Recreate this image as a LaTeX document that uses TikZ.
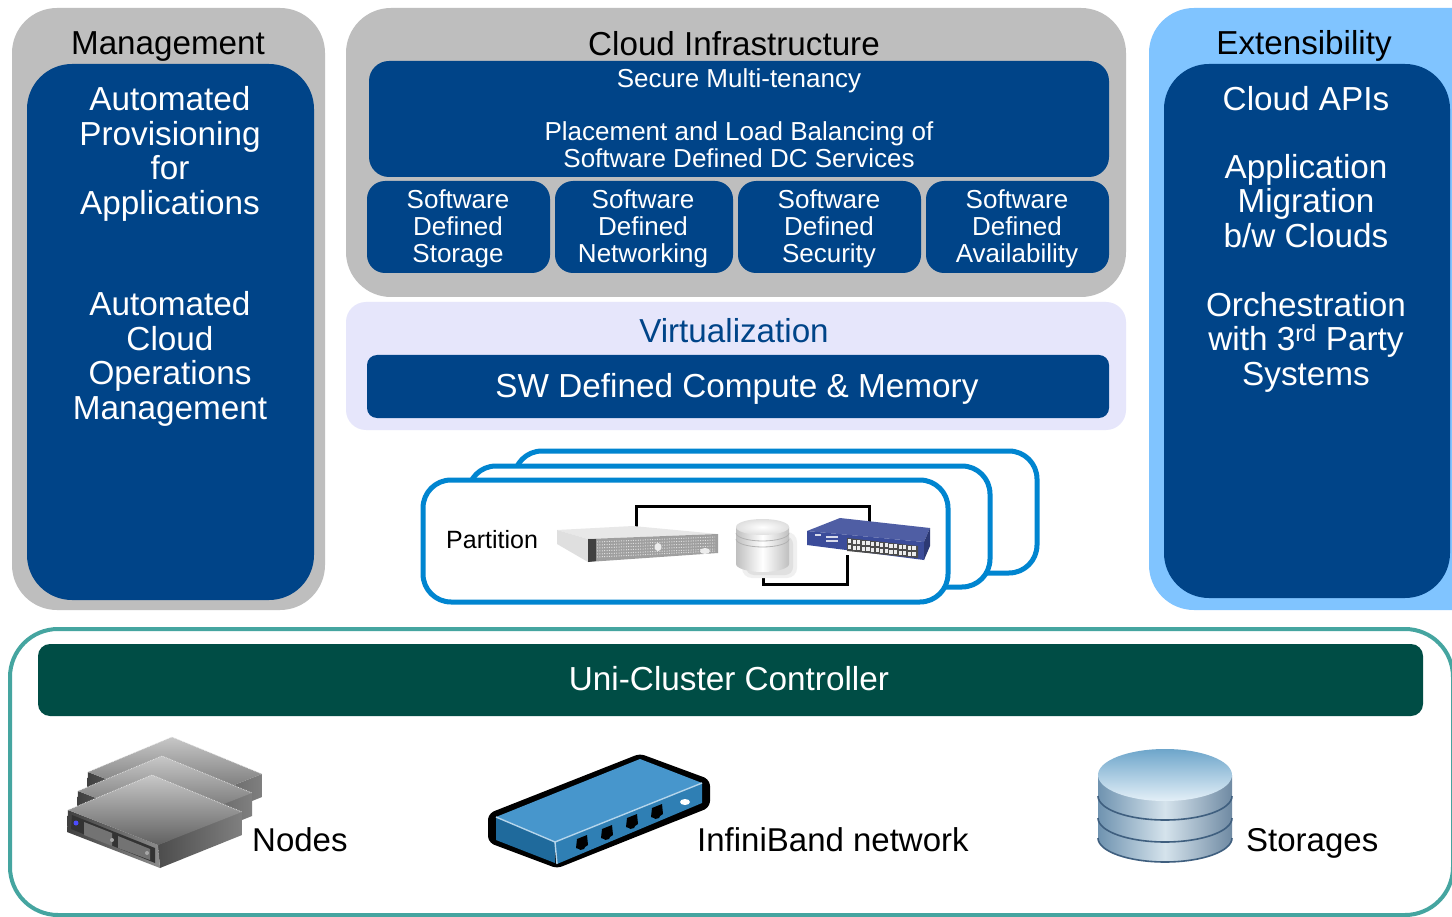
\documentclass[tikz,border=0pt]{standalone}
\usepackage{fontspec}
\setmainfont{Liberation Sans}
\usetikzlibrary{calc}
\definecolor{navy}{HTML}{004488}
\definecolor{panelgray}{HTML}{BEBEBE}
\definecolor{lav}{HTML}{E6E6FB}
\definecolor{skyp}{HTML}{80C4FF}
\definecolor{frameblue}{HTML}{0085D0}
\definecolor{teal1}{HTML}{45A5A0}
\definecolor{darkgreen}{HTML}{004D45}
\definecolor{ibtop}{HTML}{4796CC}
\definecolor{ibleft}{HTML}{1F6A9C}
\definecolor{ibright}{HTML}{2F7FB4}
\definecolor{swblue}{HTML}{3B4C9A}
\definecolor{diskL}{HTML}{6F93B0}
\definecolor{diskM}{HTML}{D5E3EC}
\definecolor{diskR}{HTML}{6F8AA3}
\definecolor{diskD}{HTML}{3F5F7F}
\tikzset{
 txtL/.style={text=white,align=center,inner sep=0pt,font=\fontsize{33.3}{34.5}\selectfont},
 txtM/.style={text=white,align=center,inner sep=0pt,font=\fontsize{26}{27}\selectfont},
 title/.style={text=black,align=center,inner sep=0pt,font=\fontsize{33.2}{34}\selectfont},
 label/.style={text=black,inner sep=0pt,anchor=west,font=\fontsize{33}{34}\selectfont},
 navybox/.style={fill=navy,draw=none},
 pframe/.style={draw=frameblue,line width=5pt,fill=white,rounded corners=28pt},
 link/.style={draw=black,line width=3pt},
}
\begin{document}
\begin{tikzpicture}[x=1pt,y=-1pt]
\clip (0,0) rectangle (1452,917);
\fill[white] (0,0) rectangle (1452,917);
% panels
\fill[panelgray,rounded corners=45pt] (12,8) rectangle (325,610);
\fill[navybox,rounded corners=45pt] (27,64) rectangle (314,600);
\fill[panelgray,rounded corners=45pt] (346,8) rectangle (1126,297);
\fill[navybox,rounded corners=20pt] (369,61) rectangle (1109,177);
\fill[navybox,rounded corners=18pt] (367,181) rectangle (550,273);
\fill[navybox,rounded corners=18pt] (555,181) rectangle (733,273);
\fill[navybox,rounded corners=18pt] (738,181) rectangle (921,273);
\fill[navybox,rounded corners=18pt] (926,181) rectangle (1109,273);
\fill[lav,rounded corners=20pt] (346,302) rectangle (1126,430);
\fill[navybox,rounded corners=10pt] (367,355) rectangle (1109,418);
\fill[skyp,rounded corners=45pt] (1149,8) rectangle (1500,610);
\fill[navybox,rounded corners=45pt] (1164,64) rectangle (1450,598);
% titles
\node[title] (tmgmt) at (168,47) {Management};
\node[title] (tcloud) at (734,44) {Cloud Infrastructure};
\node[title] (text) at (1304,46) {Extensibility};
\node[title,text=navy] (tvirt) at (734,331) {Virtualization};
% left text
\node[txtL] (m1) at (170,154) {Automated\\Provisioning\\for\\Applications};
\node[txtL] (m2) at (170,359) {Automated\\Cloud\\Operations\\Management};
% right text
\node[txtL] (e1) at (1306,99) {Cloud APIs};
\node[txtL] (e2) at (1306,201) {Application\\Migration\\b/w Clouds};
\node[txtL] (e3) at (1306,342) {Orchestration\\with 3\textsuperscript{rd} Party\\Systems};
% cloud text
\node[txtM] (c1) at (739,81) {Secure Multi-tenancy};
\node[txtM] (c2) at (739,145) {Placement and Load Balancing of\\Software Defined DC Services};
\node[txtM] (s1) at (458,229) {Software\\Defined\\Storage};
\node[txtM] (s2) at (643,229) {Software\\Defined\\Networking};
\node[txtM] (s3) at (829,229) {Software\\Defined\\Security};
\node[txtM] (s4) at (1017,229) {Software\\Defined\\Availability};
\node[txtL] (sw) at (737,389) {SW Defined Compute \& Memory};
% partition frames
\draw[pframe] (514,451) rectangle (1037,573);
\draw[pframe] (468,466) rectangle (990,587);
\draw[pframe] (423,480) rectangle (948,602);
\node[text=black,inner sep=0pt,anchor=west,font=\fontsize{25}{27}\selectfont] (ptxt) at (446,540) {Partition};
% connector anchors
\coordinate (srvTop) at (636,529);
\coordinate (swTop) at (869,522);
\coordinate (cylBot) at (763,570);
\coordinate (swBot) at (847,555);
\coordinate (upA) at (636,506);
\coordinate (upB) at (869,506);
\coordinate (dnA) at (763,584);
\coordinate (dnB) at (847,584);
\draw[link] (srvTop) -- (upA) -- (upB) -- (swTop);
\draw[link] (cylBot) -- (dnA) -- (dnB) -- (swBot);
% partition server
\fill[gray!18] (557,530) -- (633,526) -- (718,534) -- (588,539) -- cycle;
\fill[gray!25] (557,530) -- (588,539) -- (588,562) -- (557,544) -- cycle;
\fill[gray!75] (588,539) -- (718,534) -- (718,553) -- (588,562) -- cycle;
\fill[black!75] (588,539) -- (596,539) -- (596,561) -- (588,562) -- cycle;
\draw[gray!25,line width=1pt,dash pattern=on 1pt off 1.4pt]
  (597,542) -- (715,537) (597,545) -- (715,540) (597,548) -- (715,543)
  (597,551) -- (715,546) (597,554) -- (715,549) (597,557) -- (715,551);
\fill[white!85!gray] (658,547) ellipse (3.5 and 4);
\fill[white!85!gray] (705,551) ellipse (5 and 3);
% partition cylinder
\fill[black!6,rounded corners=10pt] (742,532) rectangle (797,578);
\fill[black!12,rounded corners=8pt] (746,536) rectangle (793,575);
\shade[left color=gray!50,right color=gray!50,middle color=white] (736,527) -- (736,564) arc[start angle=180,end angle=0,x radius=26.5,y radius=8] -- (789,527) -- cycle;
\draw[gray!60,line width=.8pt] (736,533) arc[start angle=180,end angle=0,x radius=26.5,y radius=8];
\draw[gray!60,line width=.8pt] (736,539) arc[start angle=180,end angle=0,x radius=26.5,y radius=8];
\shade[inner color=white,outer color=gray!25] (762.5,527) ellipse (26.5 and 8);
% partition switch
\fill[swblue!90!white] (807,531) -- (840,518) -- (930,528) -- (924,542) -- cycle;
\fill[swblue] (807,531) -- (924,542) -- (924,560) -- (807,545) -- cycle;
\fill[swblue!75!black] (924,542) -- (930,528) -- (930,546) -- (924,560) -- cycle;
\fill[black!70] (847,538) -- (918,546) -- (918,558) -- (847,551) -- cycle;
\foreach \i in {0,1,2,3,4,5,6,7,8,9,10,11,12,13,14}{
  \fill[white!85!gray] ({848+\i*4.6},{539+\i*.52}) rectangle ++(3.2,4);
  \fill[white!85!gray] ({848+\i*4.6},{545+\i*.52}) rectangle ++(3.2,4);
}
\fill[white!80!swblue] (815,534) rectangle (821,536);
\fill[white!80!swblue] (826,536) rectangle (838,537.5);
\fill[white!80!swblue] (826,540) rectangle (838,541.5);
% cluster
\draw[teal1,line width=4pt,rounded corners=48pt] (10,629) rectangle (1453,915);
\fill[darkgreen,rounded corners=12pt] (38,644) rectangle (1423,716);
\node[txtL] (ctrl) at (729,679) {Uni-Cluster Controller};
% nodes icons: three boxes back to front
\foreach \dx/\dy in {20/-38,10/-19,0/0}{
 \begin{scope}[shift={(\dx,\dy)}]
  \shade[left color=black!70,right color=black!50] (158,845) -- (242,812) -- (242,835) -- (160,868) -- cycle;
  \shade[left color=black!75,right color=black!45] (68,810) -- (158,845) -- (160,868) -- (67,832) -- cycle;
  \shade[top color=black!22,bottom color=black!62] (68,810) -- (152,775) -- (242,812) -- (158,845) -- cycle;
  \draw[white!85!gray,line width=.7pt,densely dotted] (68,810) -- (152,775) -- (242,812);
 \end{scope}
}
\fill[black!80] (72,815) -- (155,848) -- (155,863) -- (71,829) -- cycle;
\fill[black!55] (84,822) -- (112,833) -- (112,846) -- (84,835) -- cycle;
\fill[black!55] (118,836) -- (150,849) -- (150,860) -- (118,848) -- cycle;
\fill[blue!70!white] (76,823) circle (2.5);
\fill[black!35] (112,840) circle (2);
\fill[black!35] (147,853) circle (2);
\node[label] (nodes) at (252,840) {Nodes};
% infiniband icon
\draw[black,line width=10pt,line join=round,fill=black,rounded corners=3pt] (493,817) -- (640,759) -- (705,783) -- (705,804) -- (557,863) -- (493,839) -- cycle;
\fill[ibleft] (496,817) -- (555,842) -- (555,863) -- (496,840) -- cycle;
\fill[ibright] (555,842) -- (702,783) -- (702,803) -- (557,864) -- cycle;
\fill[ibtop] (496,817) -- (640,759) -- (702,783) -- (555,842) -- cycle;
\draw[white!60!ibtop,line width=1.4pt] (496,817) -- (555,842) -- (702,783);
\draw[white!60!ibtop,line width=1.4pt] (555,842) -- (557,864);
\foreach \x/\y in {582/842,607/832,632/821,657/811}{
 \fill[black] (\x-5,\y-3) -- (\x+5,\y-7) -- (\x+6,\y+3) -- (\x+3,\y+5) -- (\x+2,\y+7) -- (\x-2,\y+8) -- (\x-3,\y+7) -- (\x-6,\y+6) -- cycle;
}
\fill[white] (685,802) ellipse (5 and 3);
\node[label] (ib) at (697,840) {InfiniBand network};
% storage icon
\foreach \y/\t in {838/818,818/796,796/775}{
 \shade[left color=diskL,right color=diskR,middle color=diskM] (1098,\t) -- (1098,\y) arc[start angle=180,end angle=0,x radius=67,y radius=24] -- (1232,\t) -- cycle;
 \draw[diskD,line width=1.6pt] (1098,\y) arc[start angle=180,end angle=0,x radius=67,y radius=24];
}
\shade[top color=ibright!70!white,bottom color=white!85!ibtop] (1165,775) ellipse (67 and 26);
\node[label] (st) at (1246,843) {Storages};
\end{tikzpicture}
\end{document}
